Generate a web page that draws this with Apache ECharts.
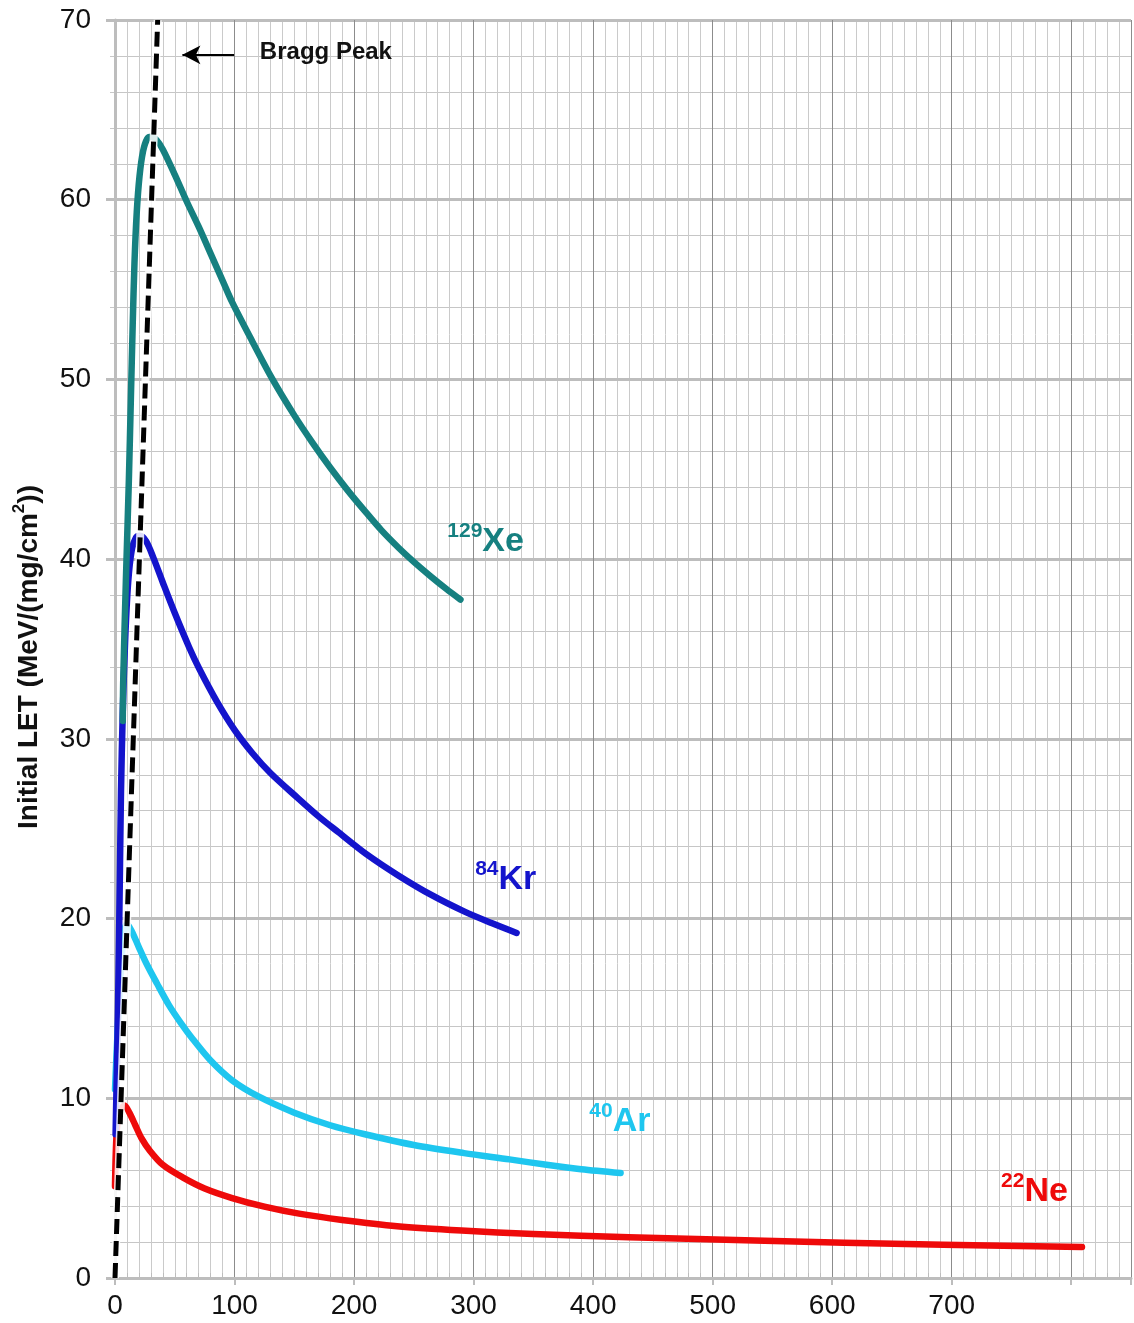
<!DOCTYPE html>
<html>
<head>
<meta charset="utf-8">
<script src="https://cdn.jsdelivr.net/npm/echarts@6/dist/echarts.min.js"></script>
<style>
html,body{margin:0;padding:0;background:#fff;}
#chart{width:1134px;height:1323px;}
</style>
</head>
<body>
<div id="chart"></div>
<script>
// Data (x: depth, y: initial LET)
const xe129 = [[6.5,31],[6.9,33.3],[9.1,38.8],[11.6,44.4],[13.3,49],[14.8,53],[16.3,56.5],[18.2,59.3],[20.5,61.3],[23.5,62.7],[27,63.4],[30.4,63.5],[35,63.3],[40,62.8],[50,61.4],[60,59.9],[70,58.5],[80,57.0],[90,55.5],[98,54.3],[115,52.1],[131,50.1],[150,48.0],[165,46.5],[180,45.1],[195,43.8],[210,42.6],[223,41.6],[237,40.65],[250,39.85],[264,39.05],[277,38.35],[289,37.75]];
const kr84 = [[0.5,8],[2.5,15],[4,22],[5,27],[6.5,31.5],[8.5,35.5],[11,38.7],[14,40.5],[17.5,41.2],[21,41.3],[26,41.0],[32,40.1],[40,38.7],[50,37.0],[62,35.1],[70.5,33.9],[85,32.1],[100,30.5],[115,29.2],[130,28.1],[153,26.7],[170,25.7],[187,24.8],[210,23.6],[237,22.4],[265,21.3],[292,20.4],[315,19.75],[336,19.2]];
const ar40 = [[0,10.5],[2,13.5],[4,16],[6,18.2],[8,19.4],[10,19.7],[14,19.3],[20,18.4],[27,17.4],[35,16.4],[45,15.2],[55,14.2],[65,13.3],[80,12.1],[98,11.0],[120,10.1],[150,9.2],[180,8.5],[209,8.0],[250,7.4],[292,6.95],[330,6.6],[361,6.3],[390,6.05],[423,5.84]];
const ne22 = [[0,5.1],[1.4,8.1],[4,9.3],[8,9.6],[12,9.2],[17,8.5],[22,7.8],[29,7.1],[40,6.3],[56.6,5.6],[75,4.98],[98,4.45],[125,3.97],[154,3.58],[190,3.23],[236,2.88],[290,2.64],[350,2.45],[430,2.27],[527,2.1],[610,1.96],[693,1.85],[809,1.73]];
const braggLine = [[0,0],[35.7,70]];
const xTickLabels = ['0','100','200','300','400','500','600','700'];
const yTickLabels = ['0','10','20','30','40','50','60','70'];
const isotopes = [
  {mass:'129', sym:'Xe', color:'#168080', pos:[278,41.1]},
  {mass:'84',  sym:'Kr', color:'#1414cc', pos:[301.3,22.3]},
  {mass:'40',  sym:'Ar', color:'#1ec6ef', pos:[396.8,8.8]},
  {mass:'22',  sym:'Ne', color:'#ee0a0a', pos:[741.3,4.9]}
];

const chart = echarts.init(document.getElementById('chart'), null, {renderer:'canvas'});
const FONT = 'Arial, "Liberation Sans", sans-serif';

function curve(name, data, color){
  return {
    name, type:'line', data, smooth:0.3, showSymbol:false, symbol:'none',
    lineStyle:{color, width:6.5, cap:'round', join:'round'}, z:3, animation:false
  };
}

const labelSeries = isotopes.map(iso => ({
  type:'scatter', symbolSize:0, z:6, animation:false, silent:true,
  itemStyle:{opacity:1},
  data:[iso.pos],
  label:{
    show:true, position:'right', distance:0, opacity:1,
    formatter:'{s|' + iso.mass + '}{m|' + iso.sym + '}',
    rich:{
      s:{fontFamily:FONT, fontWeight:'bold', fontSize:21, color:iso.color, verticalAlign:'top', lineHeight:38},
      m:{fontFamily:FONT, fontWeight:'bold', fontSize:34, color:iso.color, verticalAlign:'bottom', lineHeight:38}
    }
  }
}));

const option = {
  backgroundColor:'#ffffff',
  animation:false,
  grid:{left:115, right:-5, top:20, bottom:45, containLabel:false},
  xAxis:[{
    type:'value', min:0, max:850, interval:100, position:'bottom', z:1,
    axisLine:{show:true, onZero:false, lineStyle:{color:'#bdbdbd', width:3}},
    axisTick:{show:true, inside:false, length:7, lineStyle:{color:'#bdbdbd', width:2}},
    axisLabel:{
      fontFamily:FONT, fontSize:28, color:'#111', margin:14,
      formatter:function(v){ const s = String(v); return xTickLabels.indexOf(s) >= 0 ? s : ''; }
    },
    splitLine:{show:true, lineStyle:{color:'#8c8c8c', width:1}}
  },{
    type:'value', min:0, max:850, interval:10, position:'bottom', z:0,
    axisLine:{show:false, onZero:false},
    axisTick:{show:true, inside:true, length:5, lineStyle:{color:'#bdbdbd', width:1}},
    axisLabel:{show:false},
    splitLine:{show:true, lineStyle:{color:'#cacaca', width:1}}
  }],
  yAxis:[{
    type:'value', min:0, max:70, interval:10, position:'left', z:1,
    name:'{n|Initial LET (MeV/(mg/cm}{s|2}{n|))}',
    nameLocation:'middle', nameGap:72, nameRotate:90,
    nameTextStyle:{
      padding:[0,16,0,0],
      rich:{
        n:{fontFamily:FONT, fontWeight:'bold', fontSize:28, color:'#111', verticalAlign:'bottom', lineHeight:32},
        s:{fontFamily:FONT, fontWeight:'bold', fontSize:17, color:'#111', verticalAlign:'top', lineHeight:32}
      }
    },
    axisLine:{show:true, onZero:false, lineStyle:{color:'#bdbdbd', width:3}},
    axisTick:{show:true, length:9, lineStyle:{color:'#bdbdbd', width:3}},
    axisLabel:{
      fontFamily:FONT, fontSize:28, color:'#111', margin:24,
      formatter:function(v){ const s = String(v); return yTickLabels.indexOf(s) >= 0 ? s : ''; }
    },
    splitLine:{show:true, lineStyle:{color:'#bdbdbd', width:3}}
  },{
    type:'value', min:0, max:70, interval:2, position:'left', z:0,
    axisLine:{show:false, onZero:false},
    axisTick:{show:true, length:5, lineStyle:{color:'#c8c8c8', width:1}},
    axisLabel:{show:false},
    splitLine:{show:true, lineStyle:{color:'#c6c6c6', width:1}}
  }],
  series:[
    curve('Ne22', ne22, isotopes[3].color),
    curve('Ar40', ar40, isotopes[2].color),
    curve('Kr84', kr84, isotopes[1].color),
    curve('Xe129', xe129, isotopes[0].color),
    {
      name:'BraggHalo', type:'line', data:braggLine, showSymbol:false, symbol:'none',
      lineStyle:{color:'#ffffff', width:8, opacity:0.85}, z:4, animation:false, silent:true
    },
    {
      name:'Bragg', type:'line', data:braggLine, showSymbol:false, symbol:'none',
      lineStyle:{color:'#000000', width:5, type:[15,7]}, z:5, animation:false, silent:true,
      markLine:{
        silent:true, animation:false, symbol:['none','arrow'], symbolSize:[14,18],
        lineStyle:{color:'#000', width:2, type:'solid'},
        label:{show:false},
        data:[[{coord:[99.6,68.06]},{coord:[56.4,68.06]}]]
      }
    },
    {
      type:'scatter', symbolSize:0, z:6, animation:false, silent:true,
      itemStyle:{opacity:1},
      data:[[121.2,68.2]],
      label:{show:true, position:'right', distance:0, formatter:'Bragg Peak', opacity:1,
        fontFamily:FONT, fontWeight:'bold', fontSize:24, color:'#111'}
    }
  ].concat(labelSeries)
};
chart.setOption(option);
</script>
</body>
</html>
